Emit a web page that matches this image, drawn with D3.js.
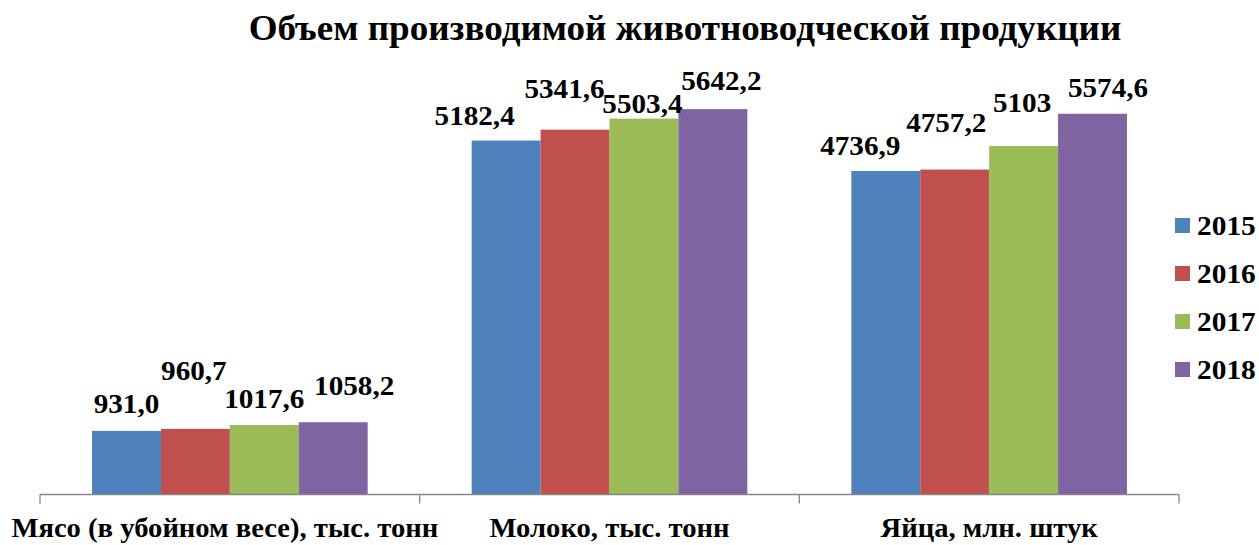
<!DOCTYPE html>
<html lang="ru"><head>
<meta charset="utf-8">
<title>Объем производимой животноводческой продукции</title>
<script src="https://cdn.jsdelivr.net/npm/d3@7"></script>
<style>
body { margin: 0; background: #fff; }
text { font-family: "Liberation Serif", "Times New Roman", serif; font-weight: bold; fill: #000; }
</style>
</head>
<body>
<svg id="chart" width="1259" height="545"></svg>
<script>

// data
var categories = ["Мясо (в убойном весе), тыс. тонн", "Молоко, тыс. тонн", "Яйца, млн. штук"];
var years = ["2015", "2016", "2017", "2018"];
var values = [
  [931.0, 960.7, 1017.6, 1058.2],
  [5182.4, 5341.6, 5503.4, 5642.2],
  [4736.9, 4757.2, 5103, 5574.6]
];
var valueLabels = [
  ["931,0", "960,7", "1017,6", "1058,2"],
  ["5182,4", "5341,6", "5503,4", "5642,2"],
  ["4736,9", "4757,2", "5103", "5574,6"]
];
var colors = ["#4F81BD", "#C0504D", "#9BBB59", "#8064A2"];

// labels were moved by hand in the original, keep the nudges apart [dx, dy]
var labelNudge = [
  [[0, 1], [-1.5, -30], [0, 2], [21, -8]],
  [[-31.5, 3.5], [-10.5, -13], [-1.5, 13], [8.5, 0]],
  [[-25.5, 3], [-8.5, -18.6], [-1.5, -15], [15.5, 2]]
];

var svg = d3.select("#chart");
var baseY = 494.5;

// the original text is a bit wider than Liberation Serif, stretch it
function place(sel, fx, fy, sx) {
  sel.attr("transform", function (d, i) {
    return "translate(" + fx(d, i) + "," + fy(d, i) + ") scale(" + sx + ",1)";
  });
}

var x0 = d3.scaleBand().domain(categories).range([40, 1179]).padding(0);
var outer = x0.bandwidth() * 0.137;
var x1 = d3.scaleBand().domain(years).range([outer, x0.bandwidth() - outer]).padding(0);
var y = d3.scaleLinear().domain([0, 6000]).range([baseY, 84.7]);

var title = svg.append("text")
  .attr("text-anchor", "middle")
  .style("font-size", "36px")
  .text("Объем производимой животноводческой продукции");
place(title, function () { return 685; }, function () { return 40; }, 1.03);

var groups = svg.selectAll("g.cat").data(categories).enter().append("g")
  .attr("class", "cat")
  .attr("transform", function (d) { return "translate(" + x0(d) + ",0)"; });

groups.selectAll("rect")
  .data(function (d, i) { return values[i].map(function (v, j) { return {v: v, year: years[j], j: j}; }); })
  .enter().append("rect")
  .attr("x", function (d) { return x1(d.year); })
  .attr("width", x1.bandwidth())
  .attr("y", function (d) { return y(d.v); })
  .attr("height", function (d) { return baseY - y(d.v); })
  .attr("fill", function (d) { return colors[d.j]; });

var vals = groups.selectAll("text.val")
  .data(function (d, i) { return values[i].map(function (v, j) { return {v: v, year: years[j], i: i, j: j}; }); })
  .enter().append("text")
  .attr("class", "val")
  .attr("text-anchor", "middle")
  .style("font-size", "27px")
  .text(function (d) { return valueLabels[d.i][d.j]; });
place(vals,
  function (d) { return x1(d.year) + x1.bandwidth() / 2 + labelNudge[d.i][d.j][0]; },
  function (d) { return y(d.v) - 19 + labelNudge[d.i][d.j][1]; },
  1.08);

// category axis with ticks between groups
var axis = svg.append("g").attr("stroke", "#868686").attr("stroke-width", 1.3);
axis.append("line")
  .attr("x1", x0.range()[0]).attr("x2", x0.range()[1])
  .attr("y1", baseY).attr("y2", baseY);
var edges = categories.map(function (c) { return x0(c); }).concat([x0.range()[1]]);
axis.selectAll("line.tick").data(edges).enter().append("line")
  .attr("class", "tick")
  .attr("x1", function (d) { return d; }).attr("x2", function (d) { return d; })
  .attr("y1", baseY).attr("y2", baseY + 9);

var cats = svg.selectAll("text.catlabel").data(categories).enter().append("text")
  .attr("class", "catlabel")
  .attr("text-anchor", "middle")
  .style("font-size", "26.5px")
  .text(function (d) { return d; });
place(cats,
  function (d, i) { return x0(d) + x0.bandwidth() / 2 + (i === 0 ? -5 : 0); },
  function () { return 537; },
  1.08);

// legend
var legend = svg.append("g").attr("transform", "translate(1175,218)");
var item = legend.selectAll("g").data(years).enter().append("g")
  .attr("transform", function (d, i) { return "translate(0," + (i * 48) + ")"; });
item.append("rect")
  .attr("width", 15).attr("height", 15)
  .attr("fill", function (d, i) { return colors[i]; });
var legText = item.append("text")
  .style("font-size", "28px")
  .text(function (d) { return d; });
place(legText, function () { return 22; }, function () { return 17; }, 1.05);

</script>
</body></html>
